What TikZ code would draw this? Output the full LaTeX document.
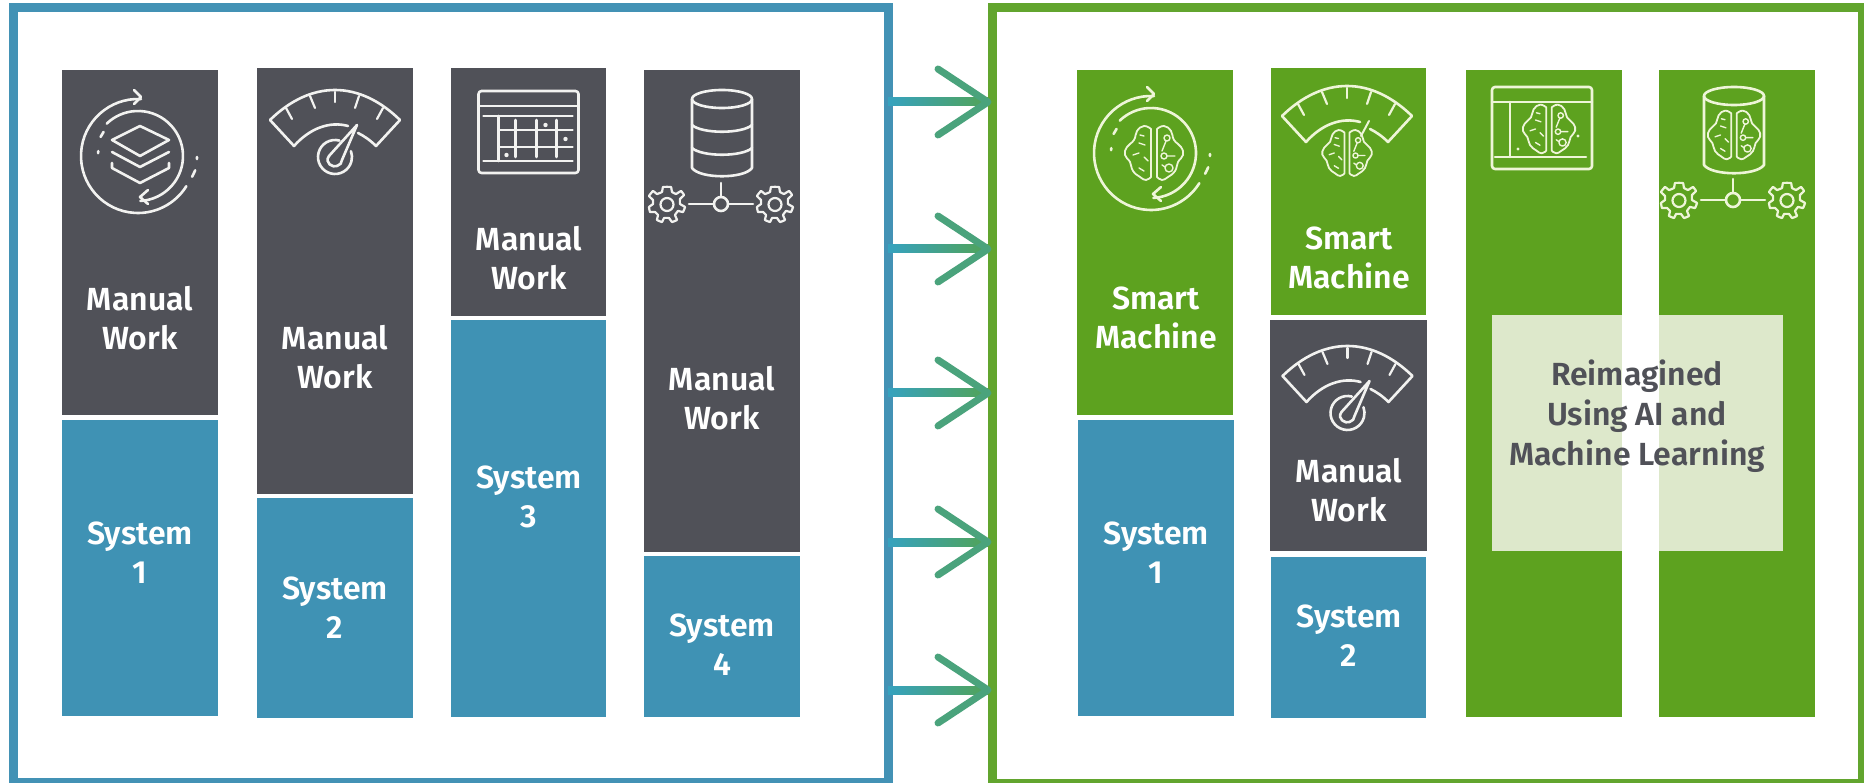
\documentclass[tikz,border=0pt]{standalone}
\usepackage{fontspec}
\setmainfont{Fira Sans}[BoldFont={Fira Sans SemiBold}]
\definecolor{slate}{HTML}{505158}
\definecolor{sysblue}{HTML}{3F92B4}
\definecolor{leaf}{HTML}{5DA21F}
\definecolor{pale}{HTML}{DDE8CB}
\definecolor{framegreen}{HTML}{62A52E}
\definecolor{frameblue}{HTML}{4392B5}
\definecolor{chev}{HTML}{4AA37C}
\definecolor{iconw}{HTML}{F2F2F0}
\definecolor{icong}{HTML}{EEF5D8}
\tikzset{
  x=1pt,y=-1pt,
  block/.style={anchor=north west,inner sep=0,outer sep=0,minimum width=156pt},
  frame/.style={line width=9pt,anchor=north west,inner sep=0,outer sep=0},
  lab/.style={align=center,font=\fontsize{32}{39}\selectfont\bfseries,inner sep=0},
  wl/.style={lab,text=white},
  ic/.style={line width=2.6pt,line cap=round,line join=round},
}
\newcommand{\dial}{% origin = centre of the small circle
  \draw[ic] (-65,-37) .. controls (-24,-77) and (24,-77) .. (65,-37) -- (41,-11)
     .. controls (35,-17) and (29,-21) .. (23,-24);
  \draw[ic] (13,-31) .. controls (-5,-36) and (-25,-29) .. (-41,-11) -- (-65,-37);
  \foreach \a/\b/\c/\d in {-49/-49/-43/-38,-25/-61/-20/-49,0/-65/0/-55,24/-61/20/-49,48/-49/42/-38}
    \draw[ic,line width=2.2pt] (\a,\b) -- (\c,\d);
}
\newcommand{\needle}{%
  \draw[ic] (22,-32) -- (-6,-1) .. controls (-11,6) and (-2,11) .. (2,9) .. controls (5,8) and (7,6) .. (7,3) -- cycle;
  \draw[ic] (-75:17) arc[start angle=-75,end angle=-380,radius=17];
}
\newcommand{\cycleicon}{% origin = centre of the rings
  \draw[ic] (-87:57) arc[start angle=-87,end angle=-328,radius=57];
  \draw[ic] (-4,-66) -- (3,-59) -- (-4,-52);
  \draw[ic] (21:58) -- (14:59);
  \draw[ic] (3:59) -- (1:59);
  \draw[ic] (87:45) arc[start angle=87,end angle=-134,radius=45];
  \draw[ic] (10,34) -- (2,41) -- (10,48);
  \draw[ic] (-153:42) -- (-145:42);
  \draw[ic] (-176:40) -- (-173:40);
}
\newcommand{\stack}{%
  \draw[ic] (2,-30) -- (31,-16) -- (2,0) -- (-26,-16) -- cycle;
  \draw[ic] (-26,-4) -- (2,11) -- (31,-4);
  \draw[ic] (-26,7) -- (-26,12) -- (2,27) -- (31,12) -- (31,7);
}
\newcommand{\tableicon}{%
  \draw[ic,rounded corners=3pt] (-50,-41) rectangle (50,41);
  \draw[ic] (-49,-26) -- (49,-26);
  \draw[ic] (-45,-16) -- (44,-16);
  \draw[ic] (-45,29) -- (44,29);
  \draw[ic] (-30,-16) -- (-30,29);
  \draw[ic] (-30,-2) -- (44,-2);
  \draw[ic] (-30,15) -- (44,15);
  \foreach \q in {-13,8,28} \draw[ic] (\q,-12) -- (\q,25);
  \fill (17,-7) circle (2.2); \fill (37,7) circle (2.2); \fill (-22,23) circle (2.2);
}
\newcommand{\gearshape}{%
  \draw[ic,line width=2.2pt] plot[smooth cycle,tension=0.15] coordinates {
   (-4,-17) (4,-17) (5,-12) (9,-10) (14,-13) (17,-9) (13,-5) (13,0) (18,3) (16,8) (11,7) (8,11) (10,16) (5,18) (2,14) (-3,14) (-5,18) (-10,16) (-9,11) (-12,8) (-17,8) (-18,3) (-14,0) (-14,-4) (-18,-8) (-14,-13) (-10,-10) (-5,-12)};
  \draw[ic,line width=2.2pt] (0,0.5) circle (6.5);
}
\newcommand{\gearrow}{%
  \begin{scope}[shift={(-54,0)}]\gearshape\end{scope}
  \begin{scope}[shift={(54,0)}]\gearshape\end{scope}
  \draw[ic] (-32,0) -- (-7,0) (7,0) -- (32,0) (0,-21) -- (0,-7);
  \draw[ic] (0,0) circle (7);
}
\newcommand{\cylinder}{%
  \draw[ic] (0,-72) ellipse (30 and 9);
  \draw[ic] (-30,-72) -- (-30,-3) .. controls (-22,8) and (22,8) .. (30,-3) -- (30,-72);
}
\newcommand{\bands}{%
  \draw[ic] (-30,-46) .. controls (-20,-37) and (20,-37) .. (30,-46);
  \draw[ic] (-30,-23) .. controls (-20,-14) and (20,-14) .. (30,-23);
}
\newcommand{\brain}[1]{% centre, width about 58 at scale 1
  \begin{scope}[scale=#1,line width=1.8pt,line cap=round,line join=round]
  \draw plot[smooth,tension=.8] coordinates {(-3,-24) (-10,-27) (-17,-22) (-20,-13) (-27,-6) (-29,2) (-24,9) (-21,18) (-14,24) (-8,27) (-3,24)} -- cycle;
  \draw plot[smooth,tension=.8] coordinates {(3,-24) (10,-27) (17,-22) (20,-13) (27,-6) (29,2) (24,9) (21,18) (14,24) (8,27) (3,24)} -- cycle;
  \draw[line width=1.4pt] (-15,-10) -- (-9,-8) (-21,2) -- (-15,0) (-10,4) -- (-6,8) (-15,15) -- (-10,18) (-14,-18) -- (-10,-17);
  \draw[line width=1.4pt] (8,-2) -- (12,-12) (13,3) -- (21,3) (8,12) -- (11,14);
  \draw[line width=1.4pt] (13,-15) circle (3) (10,3) circle (3) (15,15) circle (4);
  \end{scope}
}
\begin{document}
\begin{tikzpicture}
\useasboundingbox (0,0) rectangle (1864,783);
\fill[white] (0,0) rectangle (1864,783);
% frames
\node[frame,draw=frameblue,minimum width=875pt,minimum height=775pt] (left) at (13,7.5) {};
\node[frame,draw=framegreen,minimum width=869.5pt,minimum height=775pt] (right) at (992.5,8) {};
% left columns
\node[block,fill=slate,minimum height=345pt] (m1) at (62,70) {};
\node[block,fill=sysblue,minimum height=296pt] (s1) at (62,420) {};
\node[block,fill=slate,minimum height=425.5pt] (m2) at (257,68) {};
\node[block,fill=sysblue,minimum height=220pt] (s2) at (257,498) {};
\node[block,fill=slate,minimum height=248pt,minimum width=155pt] (m3) at (451,68) {};
\node[block,fill=sysblue,minimum height=397pt,minimum width=155pt] (s3) at (451,320) {};
\node[block,fill=slate,minimum height=482pt] (m4) at (644,70) {};
\node[block,fill=sysblue,minimum height=161pt] (s4) at (644,556) {};
% right columns
\node[block,fill=leaf,minimum height=345pt] (g1) at (1077,70) {};
\node[block,fill=sysblue,minimum height=296pt] (b1) at (1078,420) {};
\node[block,fill=leaf,minimum height=247pt,minimum width=155pt] (g2) at (1271,68) {};
\node[block,fill=slate,minimum height=231pt,minimum width=157pt] (d2) at (1270,320) {};
\node[block,fill=sysblue,minimum height=161pt,minimum width=155pt] (b2) at (1271,557) {};
\node[block,fill=leaf,minimum height=647pt] (g3) at (1466,70) {};
\node[block,fill=leaf,minimum height=647pt] (g4) at (1659,70) {};
\node[fill=pale,anchor=north west,inner sep=0,outer sep=0,minimum width=130pt,minimum height=236pt] (pale1) at (1492,315) {};
\node[fill=pale,anchor=north west,inner sep=0,outer sep=0,minimum width=124pt,minimum height=236pt] (pale2) at (1659,315) {};
% labels
\node[wl] (t1) at (140,318) {Manual\\Work};
\node[wl] (t2) at (335,357) {Manual\\Work};
\node[wl] (t3) at (529,258) {Manual\\Work};
\node[wl] (t4) at (722,398) {Manual\\Work};
\node[wl] (t5) at (140,553) {System\\1};
\node[wl] (t6) at (335,608) {System\\2};
\node[wl] (t7) at (529,497) {System\\3};
\node[wl] (t8) at (722,645) {System\\4};
\node[wl] (t9) at (1156,318) {Smart\\Machine};
\node[wl] (t10) at (1349,258) {Smart\\Machine};
\node[wl] (t11) at (1349,490) {Manual\\Work};
\node[wl] (t12) at (1156,553) {System\\1};
\node[wl] (t13) at (1349,636) {System\\2};
\node[lab,text=slate,font=\fontsize{32}{40}\selectfont\bfseries] (t14) at (1637,416) {Reimagined\\Using AI and\\Machine Learning};
% icons left
\begin{scope}[shift={(138,156)},draw=iconw,fill=iconw]\cycleicon\stack\end{scope}
\begin{scope}[shift={(335,157)},draw=iconw,fill=iconw]\dial\needle\end{scope}
\begin{scope}[shift={(528.5,132)},draw=iconw,fill=iconw]\tableicon\end{scope}
\begin{scope}[shift={(722,171)},draw=iconw,fill=iconw]\cylinder\bands\end{scope}
\begin{scope}[shift={(721,204)},draw=iconw,fill=iconw]\gearrow\end{scope}
% icons right
\begin{scope}[shift={(1151,153)},draw=icong,fill=icong]\cycleicon\begin{scope}[shift={(3,0)}]\brain{1}\end{scope}\end{scope}
\begin{scope}[shift={(1347,153)},draw=icong,fill=icong]\dial\brain{.85}\draw[ic,line width=2pt] (22,-32) -- (14,-17);\end{scope}
\begin{scope}[shift={(1347.5,413)},draw=iconw,fill=iconw]\dial\needle\end{scope}
\begin{scope}[shift={(1542,128)},draw=icong,fill=icong]
  \draw[ic,rounded corners=3pt] (-50,-41) rectangle (50,41);
  \draw[ic] (-50,-26) -- (50,-26);
  \draw[ic] (-47,29) -- (44,29);
  \draw[ic] (-32,-26) -- (-32,29);
  \fill (36,8) circle (1.6); \fill (-24,21) circle (1.6);
  \begin{scope}[shift={(7,1)}]\brain{.9}\end{scope}
\end{scope}
\begin{scope}[shift={(1734,168)},draw=icong,fill=icong]\cylinder\end{scope}
\begin{scope}[shift={(1734,135)},draw=icong,fill=icong]\brain{.9}\end{scope}
\begin{scope}[shift={(1733,200)},draw=icong,fill=icong]\gearrow\end{scope}
% arrows
\foreach \n/\yy in {1/102,2/249,3/393,4/542,5/690}{
  \coordinate (a\n) at (left.east |- 0,\yy);
  \coordinate (e\n) at ([xshift=-4.5pt]right.west |- 0,\yy);
  \coordinate (u\n) at (938,\yy-33);
  \coordinate (v\n) at (938,\yy+33);
  \draw[line width=8pt,chev] (a\n) -- (e\n);
  \shade[left color=sysblue!85!cyan,right color=chev!60!leaf] ([yshift=-4pt]a\n) rectangle ([yshift=4pt]e\n);
  \draw[line width=7pt,chev,line cap=round,line join=round] (u\n) -- (e\n) -- (v\n);
}
\end{tikzpicture}
\end{document}
